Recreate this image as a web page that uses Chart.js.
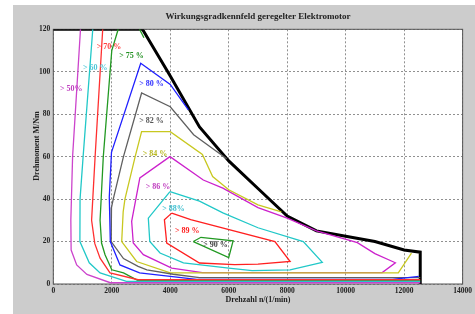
<!DOCTYPE html>
<html>
<head>
<meta charset="utf-8">
<script src="https://cdn.jsdelivr.net/npm/chart.js@4.4.0/dist/chart.umd.min.js"></script>
<style>
  html, body { margin: 0; padding: 0; background: #fff; }
  canvas { display: block; }
</style>
</head>
<body>
<canvas id="map" width="475" height="314"></canvas>
<script>
// efficiency contours, [speed 1/min, torque Nm]
const eta50 = [[930,120],[660,60],[600,30],[610,16],[800,9],[1150,4.5],[1950,0.6],[12550,0.6]];
const eta60 = [[1350,120],[1020,60],[915,40],[910,20],[1230,10],[1600,5.2],[2500,1.2],[12550,1.2]];
const eta70 = [[1690,120],[1430,60],[1310,30],[1420,19],[1600,12.2],[1940,5.2],[2900,2],[12550,2]];
const eta75 = [[2220,120],[2000,110],[1710,60],[1600,30],[1650,19.3],[1770,13.8],[2000,6.7],[2400,5.2],[2900,1.6],[12550,1.6]];
const eta75top = [[2950,120],[3100,116]];
const eta80 = [[4620,82],[4000,94],[2990,104],[1990,62],[1915,41],[1950,20],[2280,9],[2950,5.2],[4000,3.6],[4900,2.2],[11600,2.2],[12500,3.6]];
const eta82 = [[5930,59],[4800,70.3],[4000,83.5],[3020,90],[2400,60],[2050,40],[1990,36],[1980,20],[2400,12],[2900,8.3],[3200,6.7],[4100,4.6],[5000,3],[12550,3]];
const eta84 = [[7800,34],[7000,37.3],[6000,44.4],[5450,50.6],[5100,61],[4000,71.8],[3020,71.8],[2800,60],[2450,40],[2390,34],[2340,20],[2850,10.6],[4000,5.2],[11800,5.2],[12250,14.5]];
const eta86 = [[3990,60],[2960,50],[2680,29.5],[2735,19.3],[3080,13.8],[4050,7.5],[5100,5.4],[11250,5.4],[11700,10],[11000,14.3],[10400,19.5],[9000,25],[8000,31],[7000,36],[5800,45.2],[5130,49],[3990,60]];
const eta88 = [[3990,43.5],[3250,31],[3300,20],[3650,14.6],[4450,10],[6000,7.5],[6800,6.3],[8100,6.7],[9200,10.2],[8550,20],[7000,26.5],[5800,33.5],[5000,39],[3990,43.5]];
const eta89 = [[4050,33.4],[3800,30.3],[3880,19.3],[5000,9.9],[6200,9.1],[7000,9.4],[8100,10.6],[7580,20],[4700,30.3],[4050,33.4]];
const eta90 = [[4790,20],[5050,22],[6150,20.3],[6000,12.5],[4790,20]];
// full load curve
const maxTorque = [[0,120],[3050,120],[4000,98],[5000,74],[6000,58],[7000,45],[8000,32],[9000,25],[10000,22.5],[11000,20],[12000,16],[12550,15],[12550,0]];

const labelText = ['> 50%', '> 60 %', '> 70 %', '> 75 %', '> 80 %', '> 82 %', '> 84 %', '> 86 %', '> 88%', '> 89 %', '> 90 %'];
const labelAt = [[229,92],[1015,101.6],[1484,111.8],[2256,107.4],[2940,94.1],[2940,77],[3056,61.3],[3159,45.6],[3726,35.4],[4161,24.8],[5128,18.2]];
const labelColor = ['#c040c0', '#50c8d8', '#ff4040', '#209020', '#3030ff', '#555555', '#b8b820', '#c040c0', '#40c0d0', '#ff2020', '#444444'];

const serif = '"Liberation Serif", "DejaVu Serif", serif';

function line(pts, color, width) {
  return {
    data: pts.map(([x, y]) => ({ x, y })),
    showLine: true,
    borderColor: color,
    borderWidth: width || 1.3,
    pointRadius: 0,
    fill: false,
    tension: 0
  };
}

const framePlugin = {
  id: 'frame',
  beforeDraw(chart) {
    const { ctx, chartArea: a, width, height } = chart;
    ctx.save();
    ctx.fillStyle = '#fff';
    ctx.fillRect(0, 0, width, height);
    ctx.fillStyle = '#cccccc';
    ctx.fillRect(13, 5, width - 13, height - 5);
    ctx.fillStyle = '#fff';
    ctx.fillRect(a.left, a.top, a.right - a.left, a.bottom - a.top);
    ctx.restore();
  },
  beforeDatasetsDraw(chart) {
    const { ctx, chartArea: a } = chart;
    ctx.save();
    ctx.strokeStyle = '#555';
    ctx.lineWidth = 1;
    ctx.strokeRect(a.left, a.top, a.right - a.left, a.bottom - a.top);
    ctx.restore();
  },
  afterDraw(chart) {
    const { ctx, chartArea: a, scales } = chart;
    ctx.save();
    ctx.fillStyle = '#222';
    ctx.textAlign = 'center';
    ctx.textBaseline = 'middle';
    ctx.font = 'bold 9px ' + serif;
    ctx.fillText('Wirkungsgradkennfeld geregelter Elektromotor', (a.left + a.right) / 2, 17);
    ctx.font = 'bold 8px ' + serif;
    ctx.fillText('Drehzahl n/(1/min)', (a.left + a.right) / 2, 300);
    ctx.translate(37, 146);
    ctx.rotate(-Math.PI / 2);
    ctx.fillText('Drehmoment M/Nm', 0, 0);
    ctx.restore();

    ctx.save();
    ctx.textAlign = 'left';
    ctx.textBaseline = 'middle';
    ctx.font = 'bold 8px ' + serif;
    labelText.forEach((t, i) => {
      ctx.fillStyle = labelColor[i];
      ctx.fillText(t, scales.x.getPixelForValue(labelAt[i][0]), scales.y.getPixelForValue(labelAt[i][1]));
    });
    ctx.restore();
  }
};

new Chart(document.getElementById('map'), {
  type: 'scatter',
  data: {
    datasets: [
      line(eta50, '#cc44cc'),
      line(eta60, '#22c8c8'),
      line(eta70, '#ff3030'),
      line(eta75, '#229922'),
      line(eta75top, '#229922'),
      line(eta80, '#2020ff'),
      line(eta82, '#606060'),
      line(eta84, '#c8c820'),
      line(eta86, '#cc22cc'),
      line(eta88, '#22c8c8'),
      line(eta89, '#ff2020'),
      line(eta90, '#229922'),
      line(maxTorque, '#000000', 3)
    ]
  },
  options: {
    responsive: false,
    animation: false,
    devicePixelRatio: 1,
    layout: { padding: { left: 13, top: 29.3, right: 12.3, bottom: 0 } },
    plugins: { legend: { display: false }, tooltip: { enabled: false } },
    scales: {
      x: {
        type: 'linear',
        min: 0, max: 14000,
        afterFit(scale) { scale.height = 30; },
        ticks: {
          stepSize: 2000, padding: 3, color: '#222',
          font: { family: serif, size: 7.5, weight: 'bold' },
          callback: (v) => String(v)
        },
        grid: { color: '#909090', lineWidth: 1, drawTicks: false },
        border: { display: false, dash: [2, 2] }
      },
      y: {
        type: 'linear',
        min: 0, max: 120,
        afterFit(scale) { scale.width = 40.3; },
        ticks: {
          stepSize: 20, padding: 3, color: '#222',
          font: { family: serif, size: 7.5, weight: 'bold' },
          callback: (v) => String(v)
        },
        grid: { color: '#909090', lineWidth: 1, drawTicks: false },
        border: { display: false, dash: [2, 2] }
      }
    }
  },
  plugins: [framePlugin]
});
</script>
</body>
</html>
